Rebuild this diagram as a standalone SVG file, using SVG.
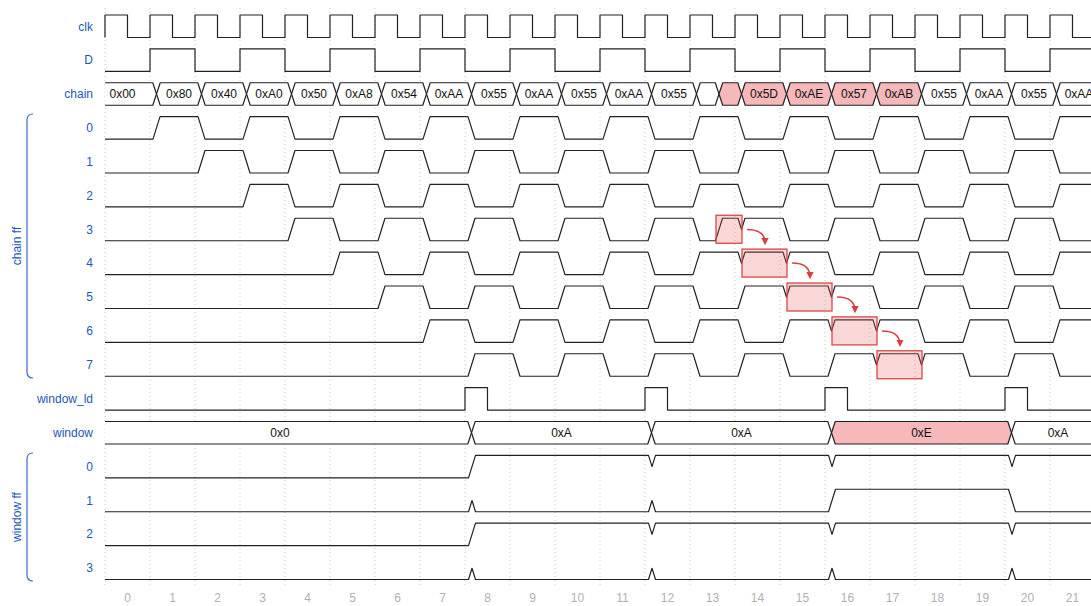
<svg xmlns="http://www.w3.org/2000/svg" width="1091" height="606" viewBox="0 0 1091 606">
<style>
.lbl{font-family:"Liberation Sans",Arial,sans-serif;font-size:12px;fill:#2357b5;text-anchor:end;dominant-baseline:central}
.grp{font-family:"Liberation Sans",Arial,sans-serif;font-size:12px;fill:#2357b5;text-anchor:middle;dominant-baseline:central}
.brk{fill:none;stroke:#3a68c0;stroke-width:1.2}
.w{fill:none;stroke:#222;stroke-width:1.2;stroke-linejoin:round}
.bx{fill:#fff;stroke:#222;stroke-width:1.2;stroke-linejoin:round}
.bp{fill:#f6b8b8;stroke:#222;stroke-width:1.2;stroke-linejoin:round}
.dt{font-family:"Liberation Sans",Arial,sans-serif;font-size:12px;fill:#111;text-anchor:middle;dominant-baseline:central}
.tk{font-family:"Liberation Sans",Arial,sans-serif;font-size:12px;fill:#b0b0b0;text-anchor:middle;dominant-baseline:central}
.grid{stroke:#c8c8c8;stroke-width:1;stroke-dasharray:1 3}
.hl{fill:#e86060;fill-opacity:0.25;stroke:#d84848;stroke-width:1.3}
.arr{fill:none;stroke:#d84040;stroke-width:1.5;marker-end:url(#ah)}
</style>
<defs>
<marker id="ah" viewBox="0 0 10 10" refX="7" refY="5" markerWidth="5" markerHeight="5" orient="auto">
<path d="M0,0 L10,5 L0,10 Z" fill="#d84040"/>
</marker>
</defs>
<rect width="1091" height="606" fill="#fff"/>
<g id="grid">
<line class="grid" x1="105" y1="8" x2="105" y2="585"/>
<line class="grid" x1="150" y1="8" x2="150" y2="585"/>
<line class="grid" x1="195" y1="8" x2="195" y2="585"/>
<line class="grid" x1="240" y1="8" x2="240" y2="585"/>
<line class="grid" x1="285" y1="8" x2="285" y2="585"/>
<line class="grid" x1="330" y1="8" x2="330" y2="585"/>
<line class="grid" x1="375" y1="8" x2="375" y2="585"/>
<line class="grid" x1="420" y1="8" x2="420" y2="585"/>
<line class="grid" x1="465" y1="8" x2="465" y2="585"/>
<line class="grid" x1="510" y1="8" x2="510" y2="585"/>
<line class="grid" x1="555" y1="8" x2="555" y2="585"/>
<line class="grid" x1="600" y1="8" x2="600" y2="585"/>
<line class="grid" x1="645" y1="8" x2="645" y2="585"/>
<line class="grid" x1="690" y1="8" x2="690" y2="585"/>
<line class="grid" x1="735" y1="8" x2="735" y2="585"/>
<line class="grid" x1="780" y1="8" x2="780" y2="585"/>
<line class="grid" x1="825" y1="8" x2="825" y2="585"/>
<line class="grid" x1="870" y1="8" x2="870" y2="585"/>
<line class="grid" x1="915" y1="8" x2="915" y2="585"/>
<line class="grid" x1="960" y1="8" x2="960" y2="585"/>
<line class="grid" x1="1005" y1="8" x2="1005" y2="585"/>
<line class="grid" x1="1050" y1="8" x2="1050" y2="585"/>
</g>
<g id="axis">
<text class="tk" x="127.5" y="598">0</text><text class="tk" x="172.5" y="598">1</text><text class="tk" x="217.5" y="598">2</text><text class="tk" x="262.5" y="598">3</text><text class="tk" x="307.5" y="598">4</text><text class="tk" x="352.5" y="598">5</text><text class="tk" x="397.5" y="598">6</text><text class="tk" x="442.5" y="598">7</text><text class="tk" x="487.5" y="598">8</text><text class="tk" x="532.5" y="598">9</text><text class="tk" x="577.5" y="598">10</text><text class="tk" x="622.5" y="598">11</text><text class="tk" x="667.5" y="598">12</text><text class="tk" x="712.5" y="598">13</text><text class="tk" x="757.5" y="598">14</text><text class="tk" x="802.5" y="598">15</text><text class="tk" x="847.5" y="598">16</text><text class="tk" x="892.5" y="598">17</text><text class="tk" x="937.5" y="598">18</text><text class="tk" x="982.5" y="598">19</text><text class="tk" x="1027.5" y="598">20</text><text class="tk" x="1072.5" y="598">21</text>
</g>
<g id="groups">
<path class="brk" d="M33,114 Q27,114 27,120 V372 Q27,378 33,378"/>
<text class="grp" transform="rotate(-90 17 246)" x="17" y="246">chain ff</text>
<path class="brk" d="M33,453 Q27,453 27,459 V575 Q27,581 33,581"/>
<text class="grp" transform="rotate(-90 17 517)" x="17" y="517">window ff</text>
</g>
<g id="clk">
<text class="lbl" x="93" y="26.5">clk</text>
<path class="w" d="M105,37.5 V15 H127.5 V37.5 H150 V15 H172.5 V37.5 H195 V15 H217.5 V37.5 H240 V15 H262.5 V37.5 H285 V15 H307.5 V37.5 H330 V15 H352.5 V37.5 H375 V15 H397.5 V37.5 H420 V15 H442.5 V37.5 H465 V15 H487.5 V37.5 H510 V15 H532.5 V37.5 H555 V15 H577.5 V37.5 H600 V15 H622.5 V37.5 H645 V15 H667.5 V37.5 H690 V15 H712.5 V37.5 H735 V15 H757.5 V37.5 H780 V15 H802.5 V37.5 H825 V15 H847.5 V37.5 H870 V15 H892.5 V37.5 H915 V15 H937.5 V37.5 H960 V15 H982.5 V37.5 H1005 V15 H1027.5 V37.5 H1050 V15 H1072.5 V37.5 H1091"/>
</g>
<g id="D">
<text class="lbl" x="93" y="60.1">D</text>
<path class="w" d="M105,71.4 H150 V48.9 H195 V71.4 H240 V48.9 H285 V71.4 H330 V48.9 H375 V71.4 H420 V48.9 H465 V71.4 H510 V48.9 H555 V71.4 H600 V48.9 H645 V71.4 H690 V48.9 H735 V71.4 H780 V48.9 H825 V71.4 H870 V48.9 H915 V71.4 H960 V48.9 H1005 V71.4 H1050 V48.9 H1091"/>
</g>
<g id="chain">
<text class="lbl" x="93" y="94">chain</text>
<path class="bx" d="M105,82.75 H152.8 L156.5,94 L152.8,105.25 H105"/>
<polygon class="bx" points="156.5,94 160.2,82.75 197.8,82.75 201.5,94 197.8,105.25 160.2,105.25"/>
<polygon class="bx" points="201.5,94 205.2,82.75 242.8,82.75 246.5,94 242.8,105.25 205.2,105.25"/>
<polygon class="bx" points="246.5,94 250.2,82.75 287.8,82.75 291.5,94 287.8,105.25 250.2,105.25"/>
<polygon class="bx" points="291.5,94 295.2,82.75 332.8,82.75 336.5,94 332.8,105.25 295.2,105.25"/>
<polygon class="bx" points="336.5,94 340.2,82.75 377.8,82.75 381.5,94 377.8,105.25 340.2,105.25"/>
<polygon class="bx" points="381.5,94 385.2,82.75 422.8,82.75 426.5,94 422.8,105.25 385.2,105.25"/>
<polygon class="bx" points="426.5,94 430.2,82.75 467.8,82.75 471.5,94 467.8,105.25 430.2,105.25"/>
<polygon class="bx" points="471.5,94 475.2,82.75 512.8,82.75 516.5,94 512.8,105.25 475.2,105.25"/>
<polygon class="bx" points="516.5,94 520.2,82.75 557.8,82.75 561.5,94 557.8,105.25 520.2,105.25"/>
<polygon class="bx" points="561.5,94 565.2,82.75 602.8,82.75 606.5,94 602.8,105.25 565.2,105.25"/>
<polygon class="bx" points="606.5,94 610.2,82.75 647.8,82.75 651.5,94 647.8,105.25 610.2,105.25"/>
<polygon class="bx" points="651.5,94 655.2,82.75 692.8,82.75 696.5,94 692.8,105.25 655.2,105.25"/>
<polygon class="bx" points="696.5,94 700.2,82.75 715.3,82.75 719,94 715.3,105.25 700.2,105.25"/>
<polygon class="bp" points="719,94 722.7,82.75 737.8,82.75 741.5,94 737.8,105.25 722.7,105.25"/>
<polygon class="bp" points="741.5,94 745.2,82.75 782.8,82.75 786.5,94 782.8,105.25 745.2,105.25"/>
<polygon class="bp" points="786.5,94 790.2,82.75 827.8,82.75 831.5,94 827.8,105.25 790.2,105.25"/>
<polygon class="bp" points="831.5,94 835.2,82.75 872.8,82.75 876.5,94 872.8,105.25 835.2,105.25"/>
<polygon class="bp" points="876.5,94 880.2,82.75 917.8,82.75 921.5,94 917.8,105.25 880.2,105.25"/>
<polygon class="bx" points="921.5,94 925.2,82.75 962.8,82.75 966.5,94 962.8,105.25 925.2,105.25"/>
<polygon class="bx" points="966.5,94 970.2,82.75 1007.8,82.75 1011.5,94 1007.8,105.25 970.2,105.25"/>
<polygon class="bx" points="1011.5,94 1015.2,82.75 1052.8,82.75 1056.5,94 1052.8,105.25 1015.2,105.25"/>
<polygon class="bx" points="1056.5,94 1060.2,82.75 1097.8,82.75 1101.5,94 1097.8,105.25 1060.2,105.25"/>
<text class="dt" x="122.5" y="94">0x00</text><text class="dt" x="179" y="94">0x80</text><text class="dt" x="224" y="94">0x40</text><text class="dt" x="269" y="94">0xA0</text><text class="dt" x="314" y="94">0x50</text><text class="dt" x="359" y="94">0xA8</text><text class="dt" x="404" y="94">0x54</text><text class="dt" x="449" y="94">0xAA</text><text class="dt" x="494" y="94">0x55</text><text class="dt" x="539" y="94">0xAA</text><text class="dt" x="584" y="94">0x55</text><text class="dt" x="629" y="94">0xAA</text><text class="dt" x="674" y="94">0x55</text><text class="dt" x="764" y="94">0x5D</text><text class="dt" x="809" y="94">0xAE</text><text class="dt" x="854" y="94">0x57</text><text class="dt" x="899" y="94">0xAB</text><text class="dt" x="944" y="94">0x55</text><text class="dt" x="989" y="94">0xAA</text><text class="dt" x="1034" y="94">0x55</text><text class="dt" x="1079" y="94">0xAA</text>
</g>
<g id="chain_ff_0">
<text class="lbl" x="93" y="127.9">0</text>
<path class="w" d="M105,139.1 H153 L160,116.6 H198 L205,139.1 H243 L250,116.6 H288 L295,139.1 H333 L340,116.6 H378 L385,139.1 H423 L430,116.6 H468 L475,139.1 H513 L520,116.6 H558 L565,139.1 H603 L610,116.6 H648 L655,139.1 H693 L700,116.6 H738 L745,139.1 H783 L790,116.6 H828 L835,139.1 H873 L880,116.6 H918 L925,139.1 H963 L970,116.6 H1008 L1015,139.1 H1053 L1060,116.6 H1091"/>
</g>
<g id="chain_ff_1">
<text class="lbl" x="93" y="161.75">1</text>
<path class="w" d="M105,173 H198 L205,150.5 H243 L250,173 H288 L295,150.5 H333 L340,173 H378 L385,150.5 H423 L430,173 H468 L475,150.5 H513 L520,173 H558 L565,150.5 H603 L610,173 H648 L655,150.5 H693 L700,173 H738 L745,150.5 H783 L790,173 H828 L835,150.5 H873 L880,173 H918 L925,150.5 H963 L970,173 H1008 L1015,150.5 H1053 L1060,173 H1091"/>
</g>
<g id="chain_ff_2">
<text class="lbl" x="93" y="195.6">2</text>
<path class="w" d="M105,206.9 H243 L250,184.4 H288 L295,206.9 H333 L340,184.4 H378 L385,206.9 H423 L430,184.4 H468 L475,206.9 H513 L520,184.4 H558 L565,206.9 H603 L610,184.4 H648 L655,206.9 H693 L700,184.4 H738 L745,206.9 H783 L790,184.4 H828 L835,206.9 H873 L880,184.4 H918 L925,206.9 H963 L970,184.4 H1008 L1015,206.9 H1053 L1060,184.4 H1091"/>
</g>
<g id="chain_ff_3">
<text class="lbl" x="93" y="229.5">3</text>
<path class="w" d="M105,240.75 H288 L295,218.25 H333 L340,240.75 H378 L385,218.25 H423 L430,240.75 H468 L475,218.25 H513 L520,240.75 H558 L565,218.25 H603 L610,240.75 H648 L655,218.25 H693 L700,240.75 H715.5 L722.5,218.25 H738 L741.5,229.5 L745,218.25 H783 L790,240.75 H828 L835,218.25 H873 L880,240.75 H918 L925,218.25 H963 L970,240.75 H1008 L1015,218.25 H1053 L1060,240.75 H1091"/>
</g>
<g id="chain_ff_4">
<text class="lbl" x="93" y="263.4">4</text>
<path class="w" d="M105,274.6 H333 L340,252.1 H378 L385,274.6 H423 L430,252.1 H468 L475,274.6 H513 L520,252.1 H558 L565,274.6 H603 L610,252.1 H648 L655,274.6 H693 L700,252.1 H738 L741.5,263.4 L745,252.1 H783 L786.5,263.4 L790,252.1 H828 L835,274.6 H873 L880,252.1 H918 L925,274.6 H963 L970,252.1 H1008 L1015,274.6 H1053 L1060,252.1 H1091"/>
</g>
<g id="chain_ff_5">
<text class="lbl" x="93" y="297.25">5</text>
<path class="w" d="M105,308.5 H378 L385,286 H423 L430,308.5 H468 L475,286 H513 L520,308.5 H558 L565,286 H603 L610,308.5 H648 L655,286 H693 L700,308.5 H738 L745,286 H783 L786.5,297.25 L790,286 H828 L831.5,297.25 L835,286 H873 L880,308.5 H918 L925,286 H963 L970,308.5 H1008 L1015,286 H1053 L1060,308.5 H1091"/>
</g>
<g id="chain_ff_6">
<text class="lbl" x="93" y="331.1">6</text>
<path class="w" d="M105,342.4 H423 L430,319.9 H468 L475,342.4 H513 L520,319.9 H558 L565,342.4 H603 L610,319.9 H648 L655,342.4 H693 L700,319.9 H738 L745,342.4 H783 L790,319.9 H828 L831.5,331.1 L835,319.9 H873 L876.5,331.1 L880,319.9 H918 L925,342.4 H963 L970,319.9 H1008 L1015,342.4 H1053 L1060,319.9 H1091"/>
</g>
<g id="chain_ff_7">
<text class="lbl" x="93" y="365">7</text>
<path class="w" d="M105,376.25 H468 L475,353.75 H513 L520,376.25 H558 L565,353.75 H603 L610,376.25 H648 L655,353.75 H693 L700,376.25 H738 L745,353.75 H783 L790,376.25 H828 L835,353.75 H873 L876.5,365 L880,353.75 H918 L921.5,365 L925,353.75 H963 L970,376.25 H1008 L1015,353.75 H1053 L1060,376.25 H1091"/>
</g>
<g id="window_ld">
<text class="lbl" x="93" y="398.9">window_ld</text>
<path class="w" d="M105,410.1 H465 V387.6 H487.5 V410.1 H645 V387.6 H667.5 V410.1 H825 V387.6 H847.5 V410.1 H1005 V387.6 H1027.5 V410.1 H1091"/>
</g>
<g id="window">
<text class="lbl" x="93" y="432.75">window</text>
<path class="bx" d="M105,421.5 H467.8 L471.5,432.75 L467.8,444 H105"/>
<polygon class="bx" points="471.5,432.75 475.2,421.5 647.8,421.5 651.5,432.75 647.8,444 475.2,444"/>
<polygon class="bx" points="651.5,432.75 655.2,421.5 827.8,421.5 831.5,432.75 827.8,444 655.2,444"/>
<polygon class="bp" points="831.5,432.75 835.2,421.5 1007.8,421.5 1011.5,432.75 1007.8,444 835.2,444"/>
<polygon class="bx" points="1011.5,432.75 1015.2,421.5 1102.8,421.5 1106.5,432.75 1102.8,444 1015.2,444"/>
<text class="dt" x="280" y="432.75">0x0</text><text class="dt" x="561.5" y="432.75">0xA</text><text class="dt" x="741.5" y="432.75">0xA</text><text class="dt" x="921.5" y="432.75">0xE</text><text class="dt" x="1058" y="432.75">0xA</text>
</g>
<g id="window_ff_0">
<text class="lbl" x="93" y="466.6">0</text>
<path class="w" d="M105,477.9 H468.5 L475.5,455.4 H648.5 L652,466.6 L655.5,455.4 H828.5 L832,466.6 L835.5,455.4 H1008.5 L1012,466.6 L1015.5,455.4 H1091"/>
</g>
<g id="window_ff_1">
<text class="lbl" x="93" y="500.5">1</text>
<path class="w" d="M105,511.75 H468.5 L472,500.5 L475.5,511.75 H648.5 L652,500.5 L655.5,511.75 H828.5 L835.5,489.25 H1008.5 L1015.5,511.75 H1091"/>
</g>
<g id="window_ff_2">
<text class="lbl" x="93" y="534.4">2</text>
<path class="w" d="M105,545.6 H468.5 L475.5,523.1 H648.5 L652,534.4 L655.5,523.1 H828.5 L832,534.4 L835.5,523.1 H1008.5 L1012,534.4 L1015.5,523.1 H1091"/>
</g>
<g id="window_ff_3">
<text class="lbl" x="93" y="568.25">3</text>
<path class="w" d="M105,579.5 H468.5 L472,568.25 L475.5,579.5 H648.5 L652,568.25 L655.5,579.5 H828.5 L832,568.25 L835.5,579.5 H1008.5 L1012,568.25 L1015.5,579.5 H1091"/>
</g>
<g id="highlights">
<rect class="hl" x="716" y="215.25" width="26" height="28"/>
<rect class="hl" x="742" y="249.1" width="45" height="28"/>
<rect class="hl" x="787" y="283" width="45" height="28"/>
<rect class="hl" x="832" y="316.9" width="45" height="28"/>
<rect class="hl" x="877" y="350.75" width="45" height="28"/>
</g>
<g id="connectors">
<path class="arr" d="M747,229.5 Q765,229.5 765,243"/>
<path class="arr" d="M792,263.1 Q810,263.1 810,277"/>
<path class="arr" d="M837,297 Q855,297 855,311"/>
<path class="arr" d="M882,330.9 Q900,330.9 900,344.8"/>
</g>
</svg>
